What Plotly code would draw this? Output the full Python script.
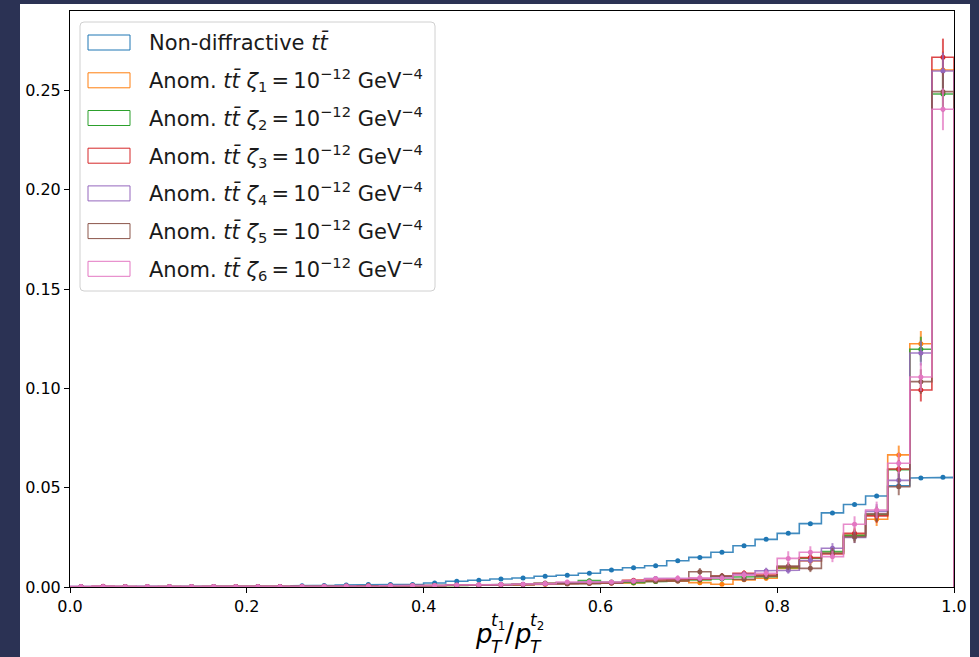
import numpy as np
import plotly.graph_objects as go

# ---------------- data ----------------
bin_edges = np.linspace(0.0, 1.0, 41)
bin_centers = 0.5 * (bin_edges[:-1] + bin_edges[1:])

labels = [
    "Non-diffractive <i>tt\u0304</i>",
    "Anom. <i>tt\u0304</i> <i>\u03b6</i><sub>1</sub>\u2009=\u200910<sup>\u221212</sup> GeV<sup>\u22124</sup>",
    "Anom. <i>tt\u0304</i> <i>\u03b6</i><sub>2</sub>\u2009=\u200910<sup>\u221212</sup> GeV<sup>\u22124</sup>",
    "Anom. <i>tt\u0304</i> <i>\u03b6</i><sub>3</sub>\u2009=\u200910<sup>\u221212</sup> GeV<sup>\u22124</sup>",
    "Anom. <i>tt\u0304</i> <i>\u03b6</i><sub>4</sub>\u2009=\u200910<sup>\u221212</sup> GeV<sup>\u22124</sup>",
    "Anom. <i>tt\u0304</i> <i>\u03b6</i><sub>5</sub>\u2009=\u200910<sup>\u221212</sup> GeV<sup>\u22124</sup>",
    "Anom. <i>tt\u0304</i> <i>\u03b6</i><sub>6</sub>\u2009=\u200910<sup>\u221212</sup> GeV<sup>\u22124</sup>",
]

nondiff_vals = [0.0002, 0.0002, 0.0002, 0.0002, 0.0002, 0.0002, 0.0002, 0.0002, 0.0003, 0.0003,
                0.0006, 0.0008, 0.0010, 0.0012, 0.0012, 0.0013, 0.0020, 0.0029, 0.0034, 0.0040,
                0.0045, 0.0054, 0.0059, 0.0069, 0.0086, 0.0097, 0.0107, 0.0132, 0.0149, 0.0175,
                0.0208, 0.0240, 0.0270, 0.0319, 0.0373, 0.0415, 0.0458, 0.0510, 0.0549, 0.0552]
nondiff_err = [0.0001] * 21 + [0.0002] * 13 + [0.0003] * 6

zeta1_vals = [0.0, 0.0002, 0.0001, 0.0002, 0.0001, 0.0002, 0.0001, 0.0002, 0.0002, 0.0003,
              0.0002, 0.0003, 0.0004, 0.0004, 0.0005, 0.0006, 0.0007, 0.0008, 0.0009, 0.0010, 0.0012, 0.0014,
              0.0018, 0.0020, 0.0020, 0.0020, 0.0028, 0.0030, 0.0022, 0.0014, 0.0036, 0.0044,
              0.0094, 0.0131, 0.0170, 0.0260, 0.0341, 0.0665, 0.1225, 0.2603]
zeta1_err = [0.0, 0.0003, 0.0002, 0.0003, 0.0002, 0.0003, 0.0002, 0.0003, 0.0003, 0.0003,
             0.0003, 0.0003, 0.0004, 0.0004, 0.0004, 0.0005, 0.0005, 0.0005, 0.0005, 0.0006, 0.0006, 0.0007,
             0.0008, 0.0008, 0.0008, 0.0008, 0.0010, 0.0010, 0.0009, 0.0007, 0.0011, 0.0012,
             0.0018, 0.0021, 0.0024, 0.0030, 0.0034, 0.0047, 0.0064, 0.0093]

zeta2_vals = [0.0001, 0.0001, 0.0002, 0.0001, 0.0002, 0.0002, 0.0001, 0.0002, 0.0003, 0.0002,
              0.0003, 0.0003, 0.0004, 0.0005, 0.0005, 0.0006, 0.0007, 0.0008, 0.0010, 0.0011, 0.0013, 0.0016,
              0.0020, 0.0032, 0.0025, 0.0022, 0.0028, 0.0035, 0.0035, 0.0040, 0.0050, 0.0052,
              0.0097, 0.0145, 0.0178, 0.0260, 0.0363, 0.0591, 0.1197, 0.2482]
zeta2_err = [0.0002, 0.0002, 0.0003, 0.0002, 0.0003, 0.0003, 0.0002, 0.0003, 0.0003, 0.0003,
             0.0003, 0.0003, 0.0004, 0.0004, 0.0004, 0.0005, 0.0005, 0.0005, 0.0006, 0.0006, 0.0007, 0.0007,
             0.0008, 0.0010, 0.0009, 0.0009, 0.0010, 0.0011, 0.0011, 0.0012, 0.0013, 0.0013,
             0.0018, 0.0022, 0.0024, 0.0029, 0.0035, 0.0044, 0.0063, 0.0091]

zeta3_vals = [0.0001, 0.0004, 0.0002, 0.0001, 0.0002, 0.0001, 0.0002, 0.0002, 0.0001, 0.0002,
              0.0003, 0.0004, 0.0004, 0.0005, 0.0006, 0.0005, 0.0008, 0.0009, 0.0010, 0.0011, 0.0012, 0.0015,
              0.0018, 0.0020, 0.0020, 0.0034, 0.0034, 0.0037, 0.0039, 0.0055, 0.0069, 0.0060,
              0.0102, 0.0148, 0.0166, 0.0270, 0.0358, 0.0594, 0.0992, 0.2667]
zeta3_err = [0.0002, 0.0004, 0.0003, 0.0002, 0.0003, 0.0002, 0.0003, 0.0003, 0.0002, 0.0003,
             0.0003, 0.0004, 0.0004, 0.0004, 0.0004, 0.0004, 0.0005, 0.0005, 0.0006, 0.0006, 0.0006, 0.0007,
             0.0008, 0.0008, 0.0008, 0.0011, 0.0011, 0.0011, 0.0012, 0.0014, 0.0015, 0.0014,
             0.0018, 0.0022, 0.0024, 0.0030, 0.0035, 0.0045, 0.0058, 0.0094]

zeta4_vals = [0.0001, 0.0002, 0.0001, 0.0002, 0.0001, 0.0002, 0.0002, 0.0001, 0.0002, 0.0002,
              0.0004, 0.0004, 0.0005, 0.0005, 0.0006, 0.0007, 0.0008, 0.0009, 0.0010, 0.0012, 0.0014, 0.0016,
              0.0020, 0.0025, 0.0022, 0.0030, 0.0043, 0.0040, 0.0043, 0.0050, 0.0064, 0.0081,
              0.0084, 0.0133, 0.0195, 0.0250, 0.0381, 0.0537, 0.1178, 0.2598]
zeta4_err = [0.0002, 0.0003, 0.0002, 0.0003, 0.0002, 0.0003, 0.0003, 0.0002, 0.0003, 0.0003,
             0.0004, 0.0004, 0.0004, 0.0004, 0.0004, 0.0005, 0.0005, 0.0005, 0.0006, 0.0006, 0.0007, 0.0007,
             0.0008, 0.0009, 0.0009, 0.0010, 0.0012, 0.0012, 0.0012, 0.0013, 0.0015, 0.0016,
             0.0017, 0.0021, 0.0026, 0.0029, 0.0036, 0.0042, 0.0063, 0.0093]

zeta5_vals = [0.0001, 0.0001, 0.0002, 0.0001, 0.0001, 0.0002, 0.0002, 0.0001, 0.0002, 0.0003,
              0.0003, 0.0003, 0.0004, 0.0006, 0.0005, 0.0007, 0.0007, 0.0009, 0.0009, 0.0011, 0.0013, 0.0020,
              0.0015, 0.0017, 0.0020, 0.0027, 0.0030, 0.0030, 0.0077, 0.0055, 0.0039, 0.0055,
              0.0105, 0.0094, 0.0170, 0.0253, 0.0368, 0.0505, 0.1034, 0.2494]
zeta5_err = [0.0002, 0.0002, 0.0003, 0.0002, 0.0002, 0.0003, 0.0003, 0.0002, 0.0003, 0.0003,
             0.0003, 0.0003, 0.0004, 0.0005, 0.0004, 0.0005, 0.0005, 0.0006, 0.0006, 0.0006, 0.0007, 0.0009,
             0.0008, 0.0008, 0.0009, 0.0010, 0.0011, 0.0011, 0.0018, 0.0015, 0.0013, 0.0015,
             0.0020, 0.0019, 0.0026, 0.0031, 0.0037, 0.0043, 0.0062, 0.0095]

zeta6_vals = [0.0003, 0.0003, 0.0002, 0.0002, 0.0002, 0.0002, 0.0002, 0.0003, 0.0003, 0.0002,
              0.0003, 0.0004, 0.0005, 0.0005, 0.0006, 0.0007, 0.0008, 0.0010, 0.0011, 0.0012, 0.0014, 0.0017,
              0.0025, 0.0025, 0.0025, 0.0030, 0.0041, 0.0044, 0.0046, 0.0044, 0.0060, 0.0069,
              0.0144, 0.0175, 0.0153, 0.0316, 0.0388, 0.0623, 0.1057, 0.2405]
zeta6_err = [0.0003, 0.0003, 0.0003, 0.0003, 0.0003, 0.0003, 0.0003, 0.0003, 0.0003, 0.0003,
             0.0004, 0.0004, 0.0005, 0.0005, 0.0005, 0.0006, 0.0006, 0.0007, 0.0007, 0.0008, 0.0008, 0.0009,
             0.0011, 0.0011, 0.0011, 0.0012, 0.0014, 0.0015, 0.0015, 0.0015, 0.0018, 0.0019,
             0.0036, 0.0030, 0.0028, 0.0040, 0.0042, 0.0052, 0.0070, 0.0105]

x_tick_vals = [0.0, 0.2, 0.4, 0.6, 0.8, 1.0]
x_tick_text = ["0.0", "0.2", "0.4", "0.6", "0.8", "1.0"]
y_tick_vals = [0.0, 0.05, 0.10, 0.15, 0.20, 0.25]
y_tick_text = ["0.00", "0.05", "0.10", "0.15", "0.20", "0.25"]

colors = ["#1f77b4", "#ff7f0e", "#2ca02c", "#d62728", "#9467bd", "#8c564b", "#e377c2"]

series_vals = [nondiff_vals, zeta1_vals, zeta2_vals, zeta3_vals, zeta4_vals, zeta5_vals, zeta6_vals]
series_err = [nondiff_err, zeta1_err, zeta2_err, zeta3_err, zeta4_err, zeta5_err, zeta6_err]

# ---------------- layout geometry ----------------
W, H = 979, 657
ML, MR, MT, MB = 70, 25, 11, 70
PW, PH = W - ML - MR, H - MT - MB
YMAX = 0.290


def px_x(px):
    return (px - ML) / PW


def px_y(py):
    return (H - MB - py) / PH


def rgba(hexc, a):
    h = hexc.lstrip("#")
    return "rgba(%d,%d,%d,%.2f)" % (int(h[0:2], 16), int(h[2:4], 16), int(h[4:6], 16), a)


fig = go.Figure()

for vals, errs, col in zip(series_vals, series_err, colors):
    xs, ys = [bin_edges[0]], [0.0]
    for i, v in enumerate(vals):
        xs += [bin_edges[i], bin_edges[i + 1]]
        ys += [v, v]
    xs.append(bin_edges[-1])
    ys.append(0.0)
    fig.add_trace(go.Scatter(x=xs, y=ys, mode="lines",
                             line=dict(color=rgba(col, 0.85), width=1.6),
                             showlegend=False, hoverinfo="skip"))
    fig.add_trace(go.Scatter(x=bin_centers, y=vals, mode="markers",
                             marker=dict(color=col, size=5),
                             error_y=dict(type="data", array=errs, visible=True,
                                          color=rgba(col, 0.75), thickness=2, width=0),
                             showlegend=False))

shapes = [
    # white figure area over dark page
    dict(type="rect", xref="paper", yref="paper", layer="below",
         x0=px_x(20), x1=px_x(970), y0=px_y(662), y1=px_y(4),
         fillcolor="white", line=dict(width=0)),
]

# manual legend (matplotlib-like)
lx0, lx1, ly0, ly1, r = 80, 435, 22, 291, 4
path = (f"M {px_x(lx0 + r)},{px_y(ly0)} L {px_x(lx1 - r)},{px_y(ly0)} "
        f"Q {px_x(lx1)},{px_y(ly0)} {px_x(lx1)},{px_y(ly0 + r)} "
        f"L {px_x(lx1)},{px_y(ly1 - r)} Q {px_x(lx1)},{px_y(ly1)} {px_x(lx1 - r)},{px_y(ly1)} "
        f"L {px_x(lx0 + r)},{px_y(ly1)} Q {px_x(lx0)},{px_y(ly1)} {px_x(lx0)},{px_y(ly1 - r)} "
        f"L {px_x(lx0)},{px_y(ly0 + r)} Q {px_x(lx0)},{px_y(ly0)} {px_x(lx0 + r)},{px_y(ly0)} Z")
shapes.append(dict(type="path", xref="paper", yref="paper", path=path,
                   fillcolor="rgba(255,255,255,0.85)", line=dict(color="#d0d0d0", width=1)))

annotations = []
row_y = [42.5, 80.3, 118.0, 155.7, 193.4, 231.1, 268.8]
for lab, col, ry in zip(labels, colors, row_y):
    shapes.append(dict(type="rect", xref="paper", yref="paper",
                       x0=px_x(88), x1=px_x(130), y0=px_y(ry + 7.5), y1=px_y(ry - 7.5),
                       line=dict(color=col, width=1), fillcolor="rgba(0,0,0,0)"))
    annotations.append(dict(text=lab, x=px_x(147), y=px_y(ry), xref="paper", yref="paper",
                            xanchor="left", yanchor="middle", showarrow=False,
                            font=dict(family="DejaVu Sans", size=21, color="#1a1a1a")))

# x-axis label  p_T^{t1} / p_T^{t2}
lab_font_big = dict(family="DejaVu Sans", size=26, color="black")
lab_font_small = dict(family="DejaVu Sans", size=17, color="black")
pieces = [
    ("<i>p</i>", 473, 634, lab_font_big),
    ("<i>t</i><sub>1</sub>", 489, 621, lab_font_small),
    ("<i>T</i>", 489, 647, lab_font_small),
    ("/", 503, 633, lab_font_big),
    ("<i>p</i>", 512, 634, lab_font_big),
    ("<i>t</i><sub>2</sub>", 528, 621, lab_font_small),
    ("<i>T</i>", 528, 647, lab_font_small),
]
for txt, px, py, fnt in pieces:
    annotations.append(dict(text=txt, x=px_x(px), y=px_y(py), xref="paper", yref="paper",
                            xanchor="left", yanchor="middle", showarrow=False, font=fnt))

axis_common = dict(showline=True, mirror=True, linecolor="black", linewidth=1,
                   ticks="outside", ticklen=5, tickwidth=1, tickcolor="black",
                   showgrid=False, zeroline=False,
                   tickfont=dict(family="DejaVu Sans", size=16, color="black"))

fig.update_layout(
    width=W, height=H,
    margin=dict(l=ML, r=MR, t=MT, b=MB),
    paper_bgcolor="#2b3254",
    plot_bgcolor="white",
    showlegend=False,
    xaxis=dict(range=[0, 1], tickvals=x_tick_vals, ticktext=x_tick_text, **axis_common),
    yaxis=dict(range=[0, YMAX], tickvals=y_tick_vals, ticktext=y_tick_text, **axis_common),
    shapes=shapes,
    annotations=annotations,
)

fig.write_html("out.html")
